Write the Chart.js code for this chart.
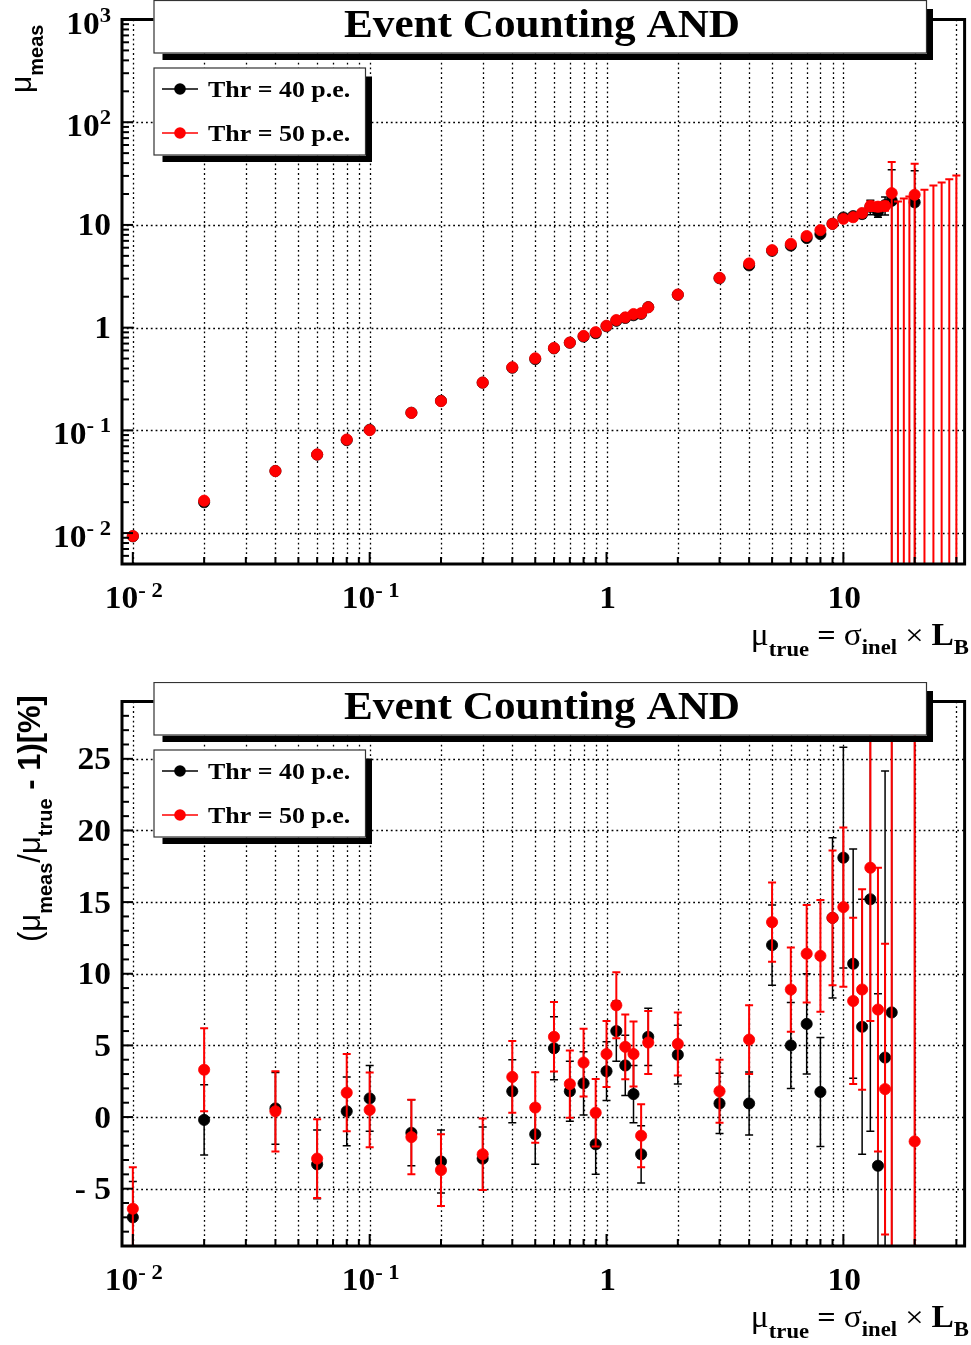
<!DOCTYPE html>
<html><head><meta charset="utf-8">
<script src="https://cdn.jsdelivr.net/npm/chart.js@4.4.1/dist/chart.umd.min.js"></script>
<style>
html,body{margin:0;padding:0;background:#fff;}
#wrap{position:relative;width:971px;height:1345px;overflow:hidden;background:#fff;}
.pane{position:absolute;left:0;width:971px;}
</style></head><body>
<div id="wrap">
<div class="pane" style="top:0;height:682px"><canvas id="c1"></canvas></div>
<div class="pane" style="top:682px;height:663px"><canvas id="c2"></canvas></div>
</div>
<script>
// ---------------- data ----------------
const muTrue = [0.01,0.02,0.04,0.06,0.08,0.1,0.15,0.2,0.3,0.4,0.5,0.6,0.7,0.8,0.9,1.0,1.1,1.2,1.3,1.4,1.5,2,3,4,5,6,7,8,9,10,11,12,13,14,15,16,20];
// top panel: measured mu
const muMeas40 = [0.0093,0.01996,0.04024,0.05802,0.08032,0.1013,0.1484,0.1938,0.2913,0.4072,0.494,0.6288,0.7126,0.8188,0.8829,1.032,1.166,1.243,1.321,1.364,1.584,2.087,3.029,4.038,5.6,6.3,7.455,8.14,10.25,11.81,12.18,12.76,14.98,13.52,15.62,17.17,16.6];
const muMeas40Err = [0.0002,0.0005,0.001,0.0014,0.0019,0.0023,0.0034,0.0043,0.0064,0.009,0.0104,0.0138,0.015,0.018,0.0185,0.021,0.0245,0.026,0.026,0.027,0.032,0.043,0.064,0.089,0.157,0.19,0.26,0.31,0.57,0.91,0.97,1.14,2.43,1.62,3.12,17.3,17.1];
const muMeas50 = [0.00936,0.02066,0.04016,0.05826,0.08136,0.1005,0.1479,0.1926,0.2922,0.4112,0.5033,0.6336,0.7161,0.8304,0.9027,1.044,1.186,1.259,1.357,1.382,1.578,2.102,3.054,4.216,5.68,6.534,7.798,8.9,10.25,11.47,11.89,13.07,15.26,15.05,15.29,20.4,19.66];
const muMeas50Err = [0.00027,0.0006,0.0011,0.0016,0.0022,0.0026,0.0038,0.0048,0.0073,0.0103,0.0124,0.0154,0.0168,0.0197,0.0212,0.024,0.0253,0.0271,0.0294,0.0304,0.0347,0.0462,0.0672,0.101,0.157,0.192,0.265,0.347,0.48,0.64,0.69,0.91,1.63,1.49,1.55,20.6,19.8];
// 50 p.e. points with no measured signal (only upper error visible)
const emptyTrue50 = [17,18,19,22,24,26,28,30];
const emptyUpper50 = [16.9,18.1,18.9,22.0,24.2,25.9,27.9,30.3];
// bottom panel: deviation in %
const dev40 = [-7.0,-0.2,0.6,-3.3,0.4,1.3,-1.1,-3.1,-2.9,1.8,-1.2,4.8,1.8,2.35,-1.9,3.2,6.0,3.6,1.6,-2.6,5.6,4.35,0.95,0.95,12.0,5.0,6.5,1.75,13.9,18.1,10.7,6.3,15.2,-3.4,4.15,7.3,-17.0];
const dev40Err = [2.5,2.45,2.5,2.4,2.4,2.3,2.3,2.2,2.2,2.2,2.1,2.2,2.1,2.2,2.1,2.05,2.1,2.1,2.0,2.0,2.0,2.05,2.1,2.2,2.8,3.0,3.5,3.8,5.6,7.7,8.0,8.9,16.2,12.0,20.0,110,86];
const dev50 = [-6.4,3.3,0.4,-2.9,1.7,0.5,-1.4,-3.7,-2.6,2.8,0.66,5.6,2.3,3.8,0.3,4.4,7.8,4.9,4.4,-1.3,5.2,5.1,1.8,5.4,13.6,8.9,11.4,11.25,13.9,14.65,8.1,8.9,17.4,7.5,1.95,27.5,-1.7];
const dev50Err = [2.9,2.9,2.8,2.75,2.7,2.6,2.6,2.5,2.5,2.5,2.46,2.43,2.35,2.37,2.35,2.3,2.3,2.26,2.26,2.2,2.2,2.2,2.2,2.4,2.76,2.94,3.4,3.9,4.7,5.55,5.8,7.0,10.7,9.9,10.15,127,97];
// labels
const seriesNames = ['Thr = 40 p.e.','Thr = 50 p.e.'];
const seriesColors = ['#000000','#ff0000'];
const titleText = 'Event Counting AND';
const xTickValues = [0.01,0.1,1,10];
const xTickLabels = [['10','- 2'],['10','- 1'],['1',''],['10','']];
const yTopTickValues = [0.01,0.1,1,10,100,1000];
const yTopTickLabels = [['10','- 2'],['10','- 1'],['1',''],['10',''],['10','2'],['10','3']];
const yBotTickValues = [-5,0,5,10,15,20,25];
const yBotTickLabels = ['- 5','0','5','10','15','20','25'];

// ---------------- helpers ----------------
const SERIF = '"Liberation Serif","Times New Roman",serif';
const SANS = '"Liberation Sans",Arial,sans-serif';
const SX = 1.08;
function runsWidth(ctx, runs){let w=0;for(const r of runs){ctx.font=r.f;w+=ctx.measureText(r.t).width;}return w;}
function drawRuns(ctx,x,y,runs,opt){
  opt=opt||{};const angle=opt.angle||0, align=opt.align||'left', sx=opt.sx||SX;
  ctx.save();ctx.translate(x,y);if(angle)ctx.rotate(angle);ctx.scale(sx,1);
  const w=runsWidth(ctx,runs);let cx=align==='left'?0:(align==='center'?-w/2:-w);
  ctx.textBaseline='alphabetic';ctx.textAlign='left';
  for(const r of runs){ctx.font=r.f;ctx.fillStyle=r.c||'#000';ctx.fillText(r.t,cx,r.dy||0);cx+=ctx.measureText(r.t).width;}
  ctx.restore();
}
function logTicks(lo,hi){const out=[];for(let e=-3;e<=3;e++){for(let m=1;m<=9;m++){const v=+(m*Math.pow(10,e)).toPrecision(6);if(v>=lo*0.999&&v<=hi*1.001)out.push({v,major:m===1});}}return out;}
function line(ctx,x1,y1,x2,y2){ctx.beginPath();ctx.moveTo(x1,y1);ctx.lineTo(x2,y2);ctx.stroke();}

function box(ctx,x0,y0,x1,y1){
  ctx.fillStyle='#000';
  ctx.fillRect(x0+9,y1,x1-x0-3,6.5);
  ctx.fillRect(x1,y0+9,6,y1-y0-2.5);
  ctx.fillStyle='#fff';ctx.fillRect(x0,y0,x1-x0,y1-y0);
  ctx.strokeStyle='#333';ctx.lineWidth=1.2;ctx.strokeRect(x0+0.5,y0+0.5,x1-x0-1,y1-y0-1);
}

// ---------------- plugins ----------------
const errorBars={id:'errorBars',
  beforeDatasetDraw(chart,args){
    const ds=chart.data.datasets[args.index];
    const xs=chart.scales.x, ys=chart.scales.y, ca=chart.chartArea, ctx=chart.ctx;
    const isLog=ys.type==='logarithmic';
    ctx.save();ctx.beginPath();ctx.rect(ca.left,ca.top,ca.right-ca.left,ca.bottom-ca.top);ctx.clip();
    ctx.strokeStyle=ds.borderColor;ctx.lineWidth=ds.errWidth;
    const cap=4;
    ds.data.forEach((p,i)=>{
      const e=ds.errors[i];if(e==null)return;
      const px=xs.getPixelForValue(p.x);
      const yHi=ys.getPixelForValue(p.y+e);
      const lo=p.y-e;
      const yLo=(isLog&&lo<=0)?ca.bottom+10:ys.getPixelForValue(lo);
      line(ctx,px,yHi,px,yLo);
      line(ctx,px-cap,yHi,px+cap,yHi);
      if(!(isLog&&lo<=0))line(ctx,px-cap,yLo,px+cap,yLo);
    });
    if(ds.upperOnly){
      ds.upperOnly.x.forEach((xv,i)=>{
        const px=xs.getPixelForValue(xv);const yHi=ys.getPixelForValue(ds.upperOnly.up[i]);
        line(ctx,px,yHi,px,ca.bottom+10);line(ctx,px-cap,yHi,px+cap,yHi);
      });
    }
    ctx.restore();
  }};

function gridPlugin(cfg){return {id:'rootGrid',
  beforeDatasetsDraw(chart){
    const {ctx,chartArea:ca,scales:{x,y}}=chart;
    ctx.save();ctx.strokeStyle='#000';ctx.lineWidth=1.3;ctx.setLineDash([1.8,3]);
    for(const t of logTicks(0.01,30)){const px=Math.round(x.getPixelForValue(t.v))+0.5;line(ctx,px,ca.top,px,ca.bottom);}
    for(const v of cfg.yGrid){const py=Math.round(y.getPixelForValue(v))+0.5;line(ctx,ca.left,py,ca.right,py);}
    ctx.restore();
  },
  afterDraw(chart){
    const {ctx,chartArea:ca,scales:{x,y}}=chart;
    ctx.save();ctx.strokeStyle='#000';ctx.lineWidth=2;
    for(const t of logTicks(0.009,32.5)){const px=x.getPixelForValue(t.v);line(ctx,px,ca.bottom,px,ca.bottom-(t.major?12:7));}
    for(const t of cfg.yTicks){const py=y.getPixelForValue(t.v);line(ctx,ca.left,py,ca.left+(t.major?11:7),py);}
    ctx.lineWidth=3;ctx.strokeRect(ca.left,ca.top,ca.right-ca.left,ca.bottom-ca.top);
    ctx.restore();
    // x tick labels
    xTickValues.forEach((v,i)=>{
      const px=x.getPixelForValue(v);const l=xTickLabels[i];
      const runs=[{t:l[0],f:`bold 31px ${SERIF}`}];if(l[1])runs.push({t:l[1],f:`bold 21px ${SERIF}`,dy:-11});
      drawRuns(ctx,px+1,608,runs,{align:'center'});
    });
    // y tick labels
    cfg.yLabels.forEach(o=>{
      const py=y.getPixelForValue(o.v);
      const runs=[{t:o.l[0],f:`bold 31px ${SERIF}`}];if(o.l[1])runs.push({t:o.l[1],f:`bold 21px ${SERIF}`,dy:-12});
      drawRuns(ctx,111,py+(o.l[1]?14:10.5),runs,{align:'right'});
    });
    // x title
    drawRuns(ctx,969,645,[
      {t:'μ',f:`31px ${SERIF}`},
      {t:'true',f:`bold 21px ${SERIF}`,dy:11},
      {t:' = ',f:`bold 30px ${SERIF}`},
      {t:'σ',f:`31px ${SERIF}`},
      {t:'inel',f:`bold 21px ${SERIF}`,dy:9},
      {t:' × ',f:`30px ${SERIF}`},
      {t:'L',f:`bold 31px ${SERIF}`},
      {t:'B',f:`bold 21px ${SERIF}`,dy:9}
    ],{align:'right'});
    // y title
    cfg.yTitle(ctx);
    // title box
    box(ctx,153.5,0,927,53.5);
    drawRuns(ctx,542,37,[{t:titleText,f:`bold 40px ${SERIF}`}],{align:'center'});
    // legend
    box(ctx,153.5,67.5,366,155.5);
    [89,133].forEach((ry,i)=>{
      ctx.strokeStyle=seriesColors[i];ctx.lineWidth=1.5;line(ctx,162,ry,198,ry);
      ctx.fillStyle=seriesColors[i];ctx.beginPath();ctx.arc(180,ry,5.8,0,Math.PI*2);ctx.fill();
      drawRuns(ctx,208,ry+8,[{t:seriesNames[i],f:`bold 24px ${SERIF}`}]);
    });
  }};}

function ds(label,xs,ys,errs,color,ew,order,extra){
  return Object.assign({label,order,data:xs.map((x,i)=>({x,y:ys[i]})),errors:errs,
    backgroundColor:color,borderColor:color,pointBackgroundColor:color,pointBorderColor:color,
    pointRadius:5.6,pointBorderWidth:0.8,pointHoverRadius:5.6,showLine:false,errWidth:ew,clip:0},extra||{});
}

function makeChart(id,H,yScale,datasets,cfg){
  return new Chart(document.getElementById(id),{
    type:'scatter',
    data:{datasets},
    options:{responsive:true,maintainAspectRatio:false,animation:false,devicePixelRatio:1,
      layout:{padding:{left:122,right:2,top:19.5,bottom:H-564}},
      plugins:{legend:{display:false},tooltip:{enabled:false},title:{display:false}},
      scales:{
        x:{type:'logarithmic',min:0.009,max:32.5,display:false},
        y:Object.assign({display:false},yScale)
      }},
    plugins:[errorBars,gridPlugin(cfg)]
  });
}

// top chart
const yTopTicks=logTicks(0.005,1000);
makeChart('c1',682,{type:'logarithmic',min:0.005,max:1000},[
  ds(seriesNames[0],muTrue,muMeas40,muMeas40Err,seriesColors[0],1.5,2),
  ds(seriesNames[1],muTrue,muMeas50,muMeas50Err,seriesColors[1],2,1,{upperOnly:{x:emptyTrue50,up:emptyUpper50}})
],{
  yGrid:[0.01,0.1,1,10,100],
  yTicks:yTopTicks,
  yLabels:yTopTickValues.map((v,i)=>({v,l:yTopTickLabels[i]})),
  yTitle(ctx){
    drawRuns(ctx,31,93,[{t:'μ',f:`30px ${SANS}`},{t:'meas',f:`bold 20px ${SANS}`,dy:12}],{angle:-Math.PI/2,sx:1});
  }
});

// bottom chart
const yBotTicks=[];for(let v=-9;v<=29;v++)yBotTicks.push({v,major:v%5===0});
makeChart('c2',663,{type:'linear',min:-9,max:29},[
  ds(seriesNames[0],muTrue,dev40,dev40Err,seriesColors[0],1.5,2),
  ds(seriesNames[1],muTrue,dev50,dev50Err,seriesColors[1],2,1)
],{
  yGrid:[-5,0,5,10,15,20,25],
  yTicks:yBotTicks,
  yLabels:yBotTickValues.map((v,i)=>({v,l:[yBotTickLabels[i],'']})),
  yTitle(ctx){
    drawRuns(ctx,40,260,[
      {t:'(μ',f:`31px ${SANS}`},
      {t:'meas',f:`bold 20px ${SANS}`,dy:12},
      {t:'/μ',f:`31px ${SANS}`},
      {t:'true',f:`bold 20px ${SANS}`,dy:12},
      {t:' - 1)[%]',f:`bold 31px ${SANS}`}
    ],{angle:-Math.PI/2,sx:1});
  }
});
</script>
</body></html>
